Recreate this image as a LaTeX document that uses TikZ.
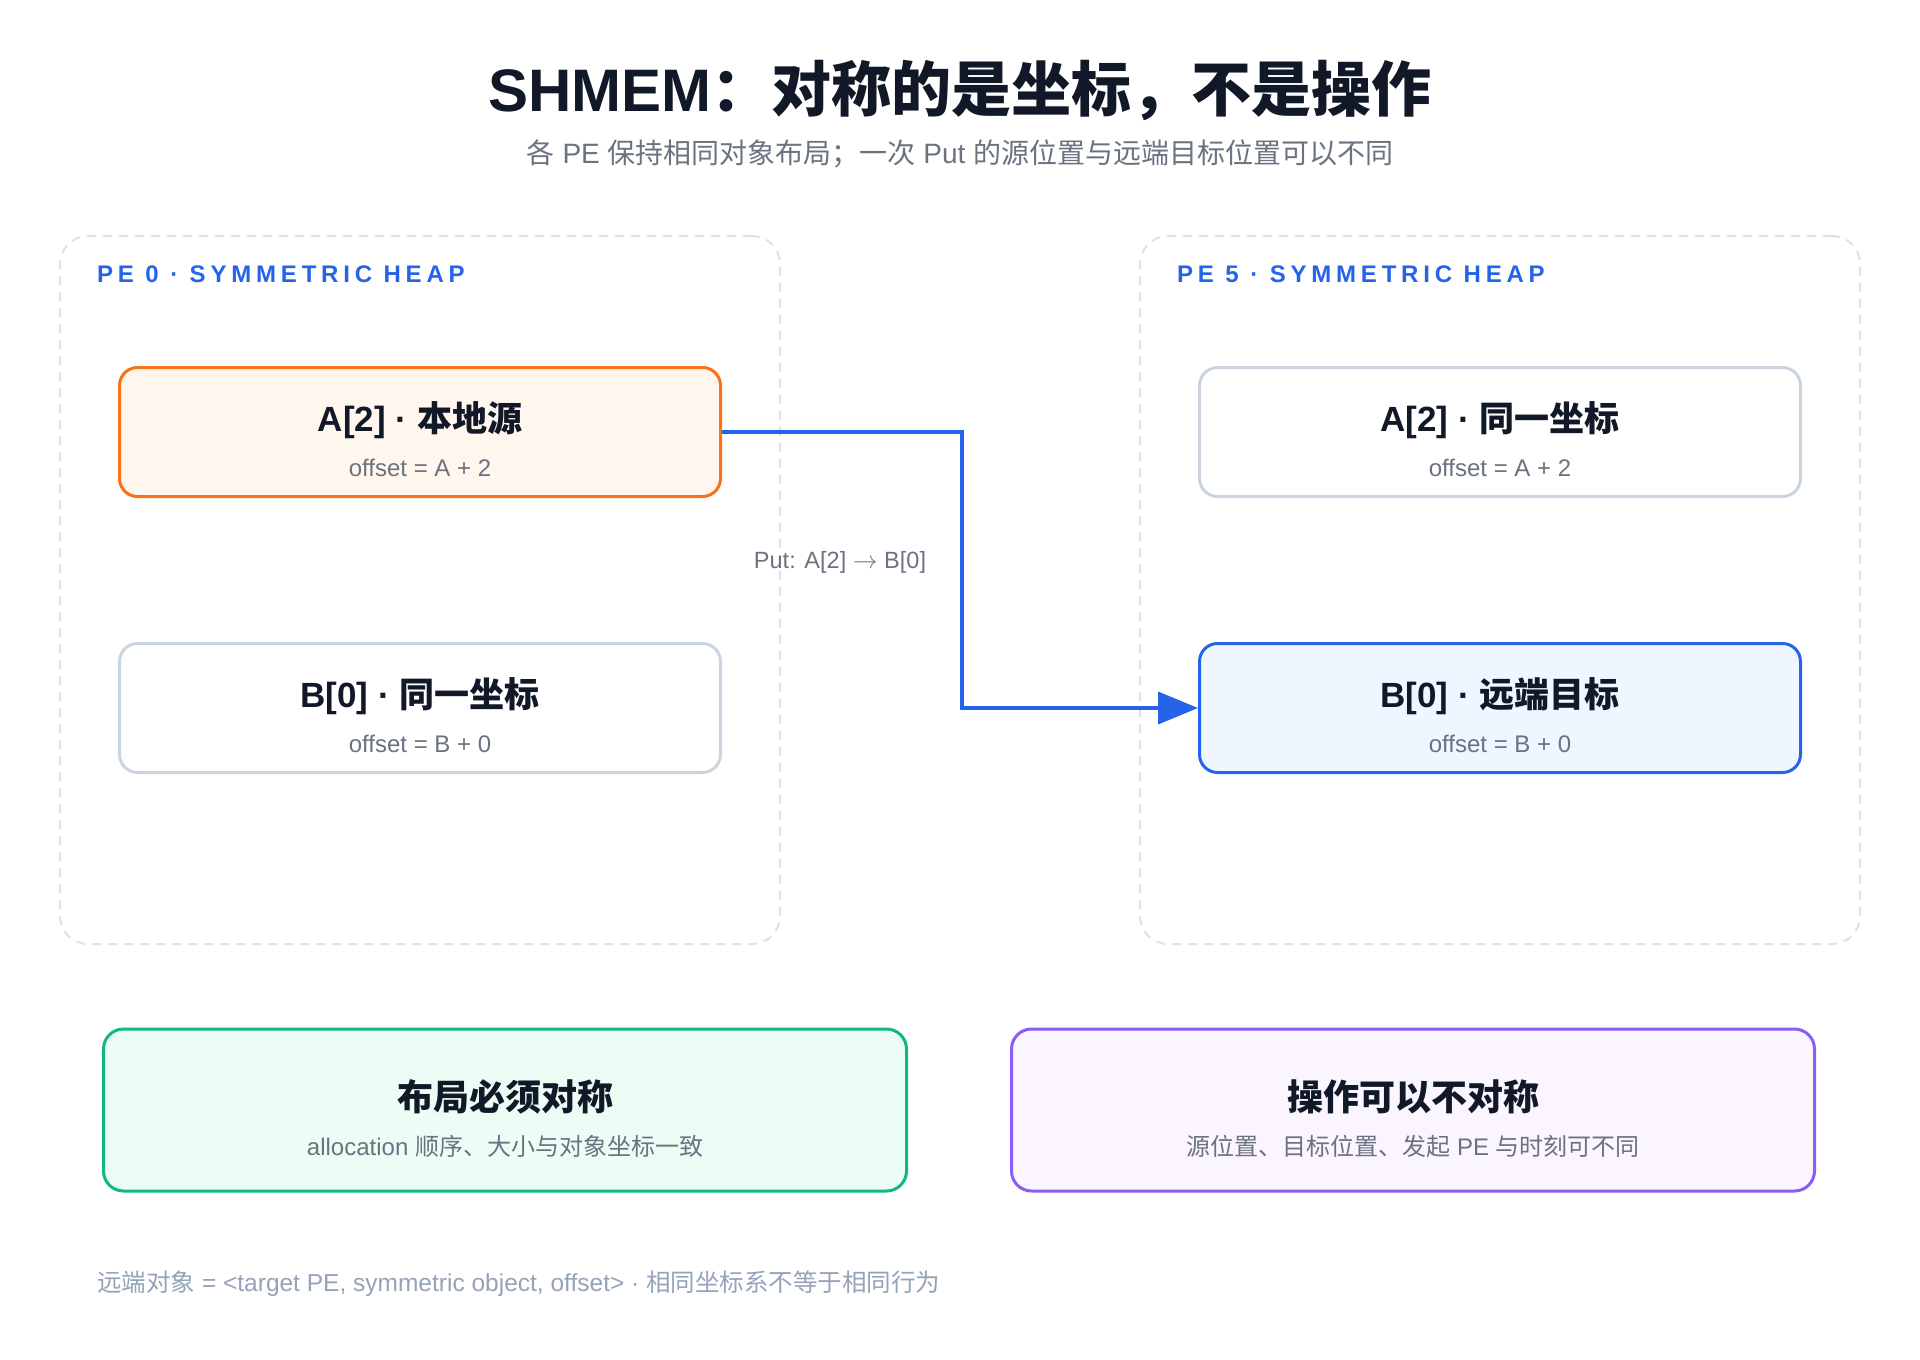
\documentclass[tikz,border=0pt]{standalone}
\usepackage{fontspec}
\setmainfont{Liberation Sans}
\newfontfamily\cjk{Noto Sans CJK SC}
\usetikzlibrary{arrows.meta,positioning}
\definecolor{ink}{HTML}{111827}
\definecolor{mute}{HTML}{6B7280}
\definecolor{soft}{HTML}{94A3B8}
\definecolor{accent}{HTML}{2563EB}
\definecolor{heapline}{HTML}{DAE2EE}
\definecolor{cellline}{HTML}{CBD5E1}
\definecolor{srcline}{HTML}{F97316}
\definecolor{srcfill}{HTML}{FFF7ED}
\definecolor{dstfill}{HTML}{EFF6FF}
\definecolor{okline}{HTML}{10B981}
\definecolor{okfill}{HTML}{ECFDF5}
\definecolor{freeline}{HTML}{8B5CF6}
\definecolor{freefill}{HTML}{FAF5FF}

\begin{document}
\begin{tikzpicture}[x=1pt,y=-1pt,
heap/.style={draw=heapline,line width=2pt,dash pattern=on 9pt off 7pt,rounded corners=28pt,minimum width=720pt,minimum height=708pt},
cell/.style={line width=3pt,rounded corners=18pt,minimum width=601pt,minimum height=129pt},
note/.style={line width=3pt,rounded corners=20pt,minimum width=803pt,minimum height=162pt},
title/.style={inner sep=0pt,text=ink,font=\fontsize{60}{62}\selectfont\bfseries},
sub/.style={inner sep=0pt,text=mute,font=\fontsize{28}{30}\selectfont},
tag/.style={inner sep=0pt,anchor=west,text=accent,font=\fontsize{24}{26}\selectfont\bfseries\addfontfeatures{LetterSpace=20}},
cellttl/.style={inner sep=0pt,text=ink,font=\fontsize{35}{38}\selectfont\bfseries},
notettl/.style={inner sep=0pt,text=ink,font=\fontsize{36}{38}\selectfont\bfseries},
celloff/.style={inner sep=0pt,text=mute,font=\fontsize{24}{26}\selectfont},
notesub/.style={inner sep=0pt,text=mute,font=\fontsize{24}{26}\selectfont},
putlbl/.style={inner sep=0pt,text=mute,font=\fontsize{23.5}{25}\selectfont},
foot/.style={inner sep=0pt,anchor=west,text=soft,font=\fontsize{24.5}{26}\selectfont},
flow/.style={draw=accent,line width=4pt,-{Triangle[length=40pt,width=32pt]}}]
\fill[white] (0,0) rectangle (1920,1360);
\node[title] (ttl) at (960,90) {SHMEM{\cjk ：对称的是坐标，不是操作}};
\node[sub] (subttl) at (960,154) {{\cjk 各} PE {\cjk 保持相同对象布局；一次} Put {\cjk 的源位置与远端目标位置可以不同}};

\node[heap] (pe0) at (420,590) {};
\node[heap] (pe5) at (1500,590) {};
\node[tag] (pe0tag) at (97,274) {PE 0 · SYMMETRIC HEAP};
\node[tag] (pe5tag) at (1177,274) {PE 5 · SYMMETRIC HEAP};

\node[cell,draw=srcline,fill=srcfill] (a2src) at (420,432) {};
\node[cell,draw=cellline,fill=white] (b0same) at (420,708) {};
\node[cell,draw=cellline,fill=white] (a2same) at (1500,432) {};
\node[cell,draw=accent,fill=dstfill] (b0dst) at (1500,708) {};
\node[cellttl] (a2srcttl) at ([yshift=12pt]a2src.center) {A[2] · {\cjk 本地源}};
\node[celloff] (a2srcoff) at ([yshift=-36pt]a2src.center) {offset = A + 2};
\node[cellttl] (b0samettl) at ([yshift=12pt]b0same.center) {B[0] · {\cjk 同一坐标}};
\node[celloff] (b0sameoff) at ([yshift=-36pt]b0same.center) {offset = B + 0};
\node[cellttl] (a2samettl) at ([yshift=12pt]a2same.center) {A[2] · {\cjk 同一坐标}};
\node[celloff] (a2sameoff) at ([yshift=-36pt]a2same.center) {offset = A + 2};
\node[cellttl] (b0dstttl) at ([yshift=12pt]b0dst.center) {B[0] · {\cjk 远端目标}};
\node[celloff] (b0dstoff) at ([yshift=-36pt]b0dst.center) {offset = B + 0};

\draw[flow] (a2src.east) -- ++(240,0) |- (b0dst.west);
\node[putlbl] (put) at (840,562) {Put: A[2] $\rightarrow$ B[0]};

\node[note,draw=okline,fill=okfill] (layout) at (505,1110) {};
\node[note,draw=freeline,fill=freefill] (ops) at (1413,1110) {};
\node[notettl] (layoutttl) at ([yshift=13pt]layout.center) {\cjk 布局必须对称};
\node[notesub] (layoutsub) at ([yshift=-36pt]layout.center) {allocation {\cjk 顺序、大小与对象坐标一致}};
\node[notettl] (opsttl) at ([yshift=13pt]ops.center) {\cjk 操作可以不对称};
\node[notesub] (opssub) at ([yshift=-36pt]ops.center) {{\cjk 源位置、目标位置、发起} PE {\cjk 与时刻可不同}};

\node[foot] (foot) at (97,1284) {{\cjk 远端对象} = <target PE, symmetric object, offset> · {\cjk 相同坐标系不等于相同行为}};
\end{tikzpicture}
\end{document}
